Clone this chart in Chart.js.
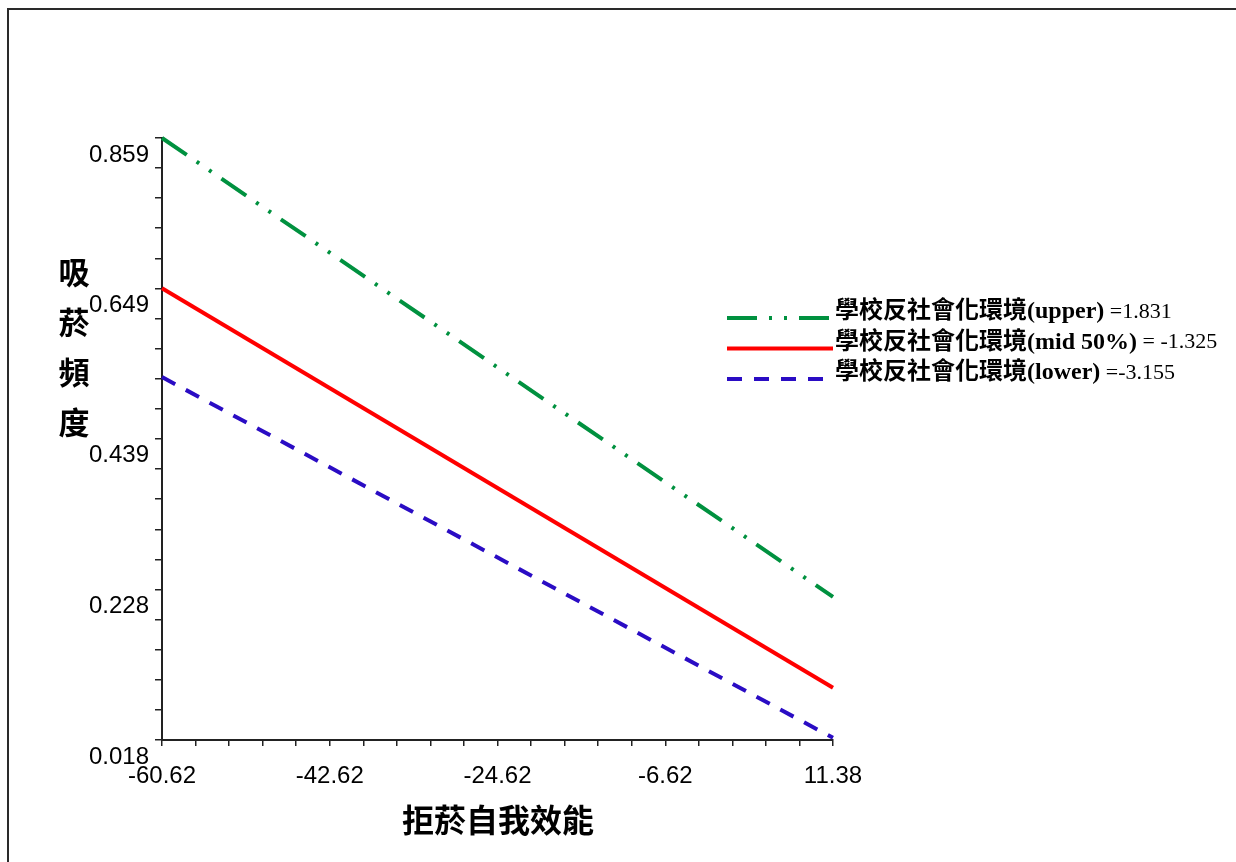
<!DOCTYPE html>
<html>
<head>
<meta charset="utf-8">
<script src="https://cdn.jsdelivr.net/npm/chart.js@4.4.0/dist/chart.umd.min.js"></script>
<style>
  html, body { margin: 0; padding: 0; background: #fff; }
  #wrap { position: absolute; left: 0; top: 0; width: 1236px; height: 862px; }
</style>
</head>
<body>
<div id="wrap"><canvas id="chart" width="1236" height="862"></canvas></div>
<script>
// ═══ DATA ═══
const xValues = [-60.62, 11.38];
const upperValues = [0.859, 0.218];
const midValues = [0.649, 0.091];
const lowerValues = [0.525, 0.021];

const xTickValues = [-60.62, -42.62, -24.62, -6.62, 11.38];
const xTickLabels = ['-60.62', '-42.62', '-24.62', '-6.62', '11.38'];
const yTickValues = [0.018, 0.228, 0.439, 0.649, 0.859];
const yTickLabels = ['0.018', '0.228', '0.439', '0.649', '0.859'];

const seriesNames = ['學校反社會化環境(upper)', '學校反社會化環境(mid 50%)', '學校反社會化環境(lower)'];
const seriesValueText = [' =1.831', ' = -1.325', ' =-3.155'];

const xTitle = '拒菸自我效能';
const yTitle = ['吸', '菸', '頻', '度'];

// 4 minor ticks between labelled ones
function withMinor(major) {
  const out = [];
  for (let i = 0; i < major.length; i++) {
    out.push(major[i]);
    if (i < major.length - 1) {
      for (let k = 1; k < 5; k++) out.push(major[i] + (major[i + 1] - major[i]) * k / 5);
    }
  }
  return out;
}

const pts = ys => xValues.map((x, i) => ({ x: x, y: ys[i] }));

// ═══ PLUGIN: frame, titles, legend ═══
const decorPlugin = {
  id: 'decor',
  beforeDraw(chart) {
    const c = chart.ctx;
    c.save();
    c.strokeStyle = '#2a2a2a';
    c.lineWidth = 2;
    c.beginPath();
    c.moveTo(1236, 9); c.lineTo(8, 9); c.lineTo(8, 862);
    c.stroke();
    c.restore();
  },
  afterDraw(chart) {
    const c = chart.ctx;
    c.save();
    c.fillStyle = '#000';
    c.textAlign = 'center';
    c.textBaseline = 'middle';
    c.font = 'bold 31px "Noto Sans CJK TC", sans-serif';
    yTitle.forEach((ch, i) => c.fillText(ch, 74, 272 + i * 50));
    c.font = 'bold 32px "Noto Sans CJK TC", sans-serif';
    c.fillText(xTitle, 498, 820);

    // legend
    chart.data.datasets.forEach((ds, i) => {
      const cy = 312 + i * 30.5;
      c.save();
      c.strokeStyle = ds.borderColor;
      c.lineWidth = ds.borderWidth;
      c.setLineDash(ds.borderDash || []);
      c.beginPath();
      c.moveTo(727, cy + 6);
      c.lineTo(833, cy + 6);
      c.stroke();
      c.restore();

      c.textAlign = 'left';
      c.font = 'bold 24px "Liberation Serif", "Noto Sans CJK TC", serif';
      c.fillText(seriesNames[i], 835, cy);
      const w = c.measureText(seriesNames[i]).width;
      c.font = '22px "Liberation Serif", serif';
      c.fillText(seriesValueText[i], 835 + w, cy);
    });
    c.restore();
  }
};

const lineDs = (data, color, dash) => ({
  data: data,
  borderColor: color,
  backgroundColor: color,
  borderWidth: 4,
  borderDash: dash,
  pointRadius: 0,
  tension: 0,
  fill: false,
  clip: 6
});

new Chart(document.getElementById('chart'), {
  type: 'line',
  data: {
    datasets: [
      lineDs(pts(upperValues), '#00913f', [30, 12, 3, 12, 3, 12]),
      lineDs(pts(midValues), '#ff0000', []),
      lineDs(pts(lowerValues), '#2a0cc4', [15, 12])
    ]
  },
  options: {
    responsive: false,
    animation: false,
    devicePixelRatio: 1,
    layout: { padding: { left: 0, top: 138, right: 403, bottom: 0 } },
    plugins: { legend: { display: false }, tooltip: { enabled: false } },
    scales: {
      x: {
        type: 'linear',
        min: xTickValues[0],
        max: xTickValues[xTickValues.length - 1],
        afterBuildTicks: s => { s.ticks = withMinor(xTickValues).map(v => ({ value: v })); },
        afterFit: s => { s.height = 122; },
        border: { display: true, color: '#222', width: 2 },
        grid: { drawOnChartArea: false, drawTicks: true, tickLength: 6, color: '#222', lineWidth: 1.5 },
        ticks: {
          autoSkip: false, maxRotation: 0, padding: 16, color: '#000',
          font: { family: '"Liberation Sans", Arial, sans-serif', size: 24 },
          callback: (v, i) => (i % 5 === 0 ? xTickLabels[i / 5] : '')
        }
      },
      y: {
        type: 'linear',
        min: yTickValues[0],
        max: yTickValues[yTickValues.length - 1],
        afterBuildTicks: s => { s.ticks = withMinor(yTickValues).map(v => ({ value: v })); },
        afterFit: s => { s.width = 162; },
        border: { display: true, color: '#222', width: 2 },
        grid: { drawOnChartArea: false, drawTicks: true, tickLength: 7, color: '#222', lineWidth: 1.5 },
        ticks: {
          autoSkip: false, padding: 6, labelOffset: 17, color: '#000',
          font: { family: '"Liberation Sans", Arial, sans-serif', size: 24 },
          callback: (v, i) => (i % 5 === 0 ? yTickLabels[i / 5] : '')
        }
      }
    }
  },
  plugins: [decorPlugin]
});
</script>
</body>
</html>
